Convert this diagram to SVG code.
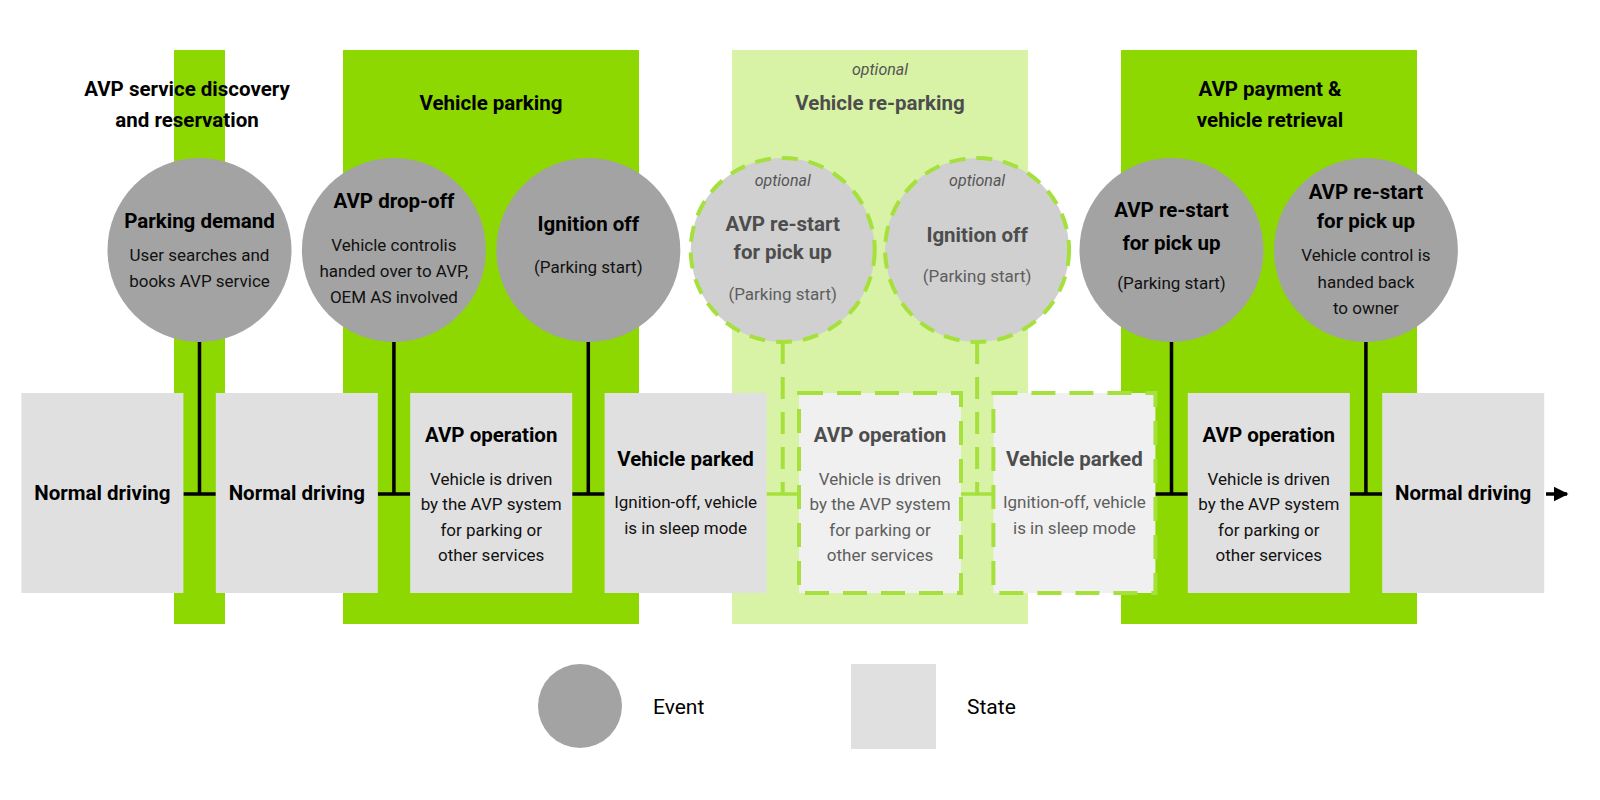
<svg xmlns="http://www.w3.org/2000/svg" width="1600" height="800" viewBox="0 0 1600 800">
<defs>
<style>
text{font-family:Roboto,"Liberation Sans",sans-serif;text-anchor:middle}
.band{fill:#8dd800}
.band-opt{fill:#d8f2a6}
.ev{fill:#a3a3a3}
.ev-opt{fill:#d0d0d0;stroke:#a6e03c;stroke-width:4;stroke-dasharray:16 11}
.st{fill:#e0e0e0}
.st-opt{fill:#f0f0f0;stroke:#a6e03c;stroke-width:4;stroke-dasharray:24 14}
.t{font-size:20.5px;font-weight:bold;fill:#000}
.s{font-size:17px;fill:#111}
.to{font-size:20.5px;font-weight:bold;fill:#4d4d4d}
.so{font-size:17px;fill:#5e5e5e}
.opt{font-size:16px;font-style:italic;fill:#555}
.c{stroke:#000;stroke-width:3.5;fill:none}
.cg{stroke:#a6e03c;stroke-width:3.5;fill:none}
.cgd{stroke:#a6e03c;stroke-width:4;fill:none;stroke-dasharray:22 13}
.leg{font-size:21px;fill:#000;text-anchor:start}
</style>
<marker id="arr" viewBox="0 0 10 10" refX="9" refY="5" markerWidth="15" markerHeight="15" markerUnits="userSpaceOnUse" orient="auto">
<path d="M0,0 L10,5 L0,10 z" fill="#000"/>
</marker>
</defs>
<rect width="1600" height="800" fill="#fff"/>

<g id="phases">
<g id="phase-discovery">
<rect class="band" x="174" y="50" width="51" height="574"/>
<text class="t" x="187" y="96">AVP service discovery</text>
<text class="t" x="187" y="127">and reservation</text>
</g>
<g id="phase-parking">
<rect class="band" x="343" y="50" width="296" height="574"/>
<text class="t" x="491" y="110">Vehicle parking</text>
</g>
<g id="phase-reparking">
<rect class="band-opt" x="732" y="50" width="296" height="574"/>
<text class="opt" x="880" y="75">optional</text>
<text class="to" x="880" y="110">Vehicle re-parking</text>
</g>
<g id="phase-retrieval">
<rect class="band" x="1121" y="50" width="296" height="574"/>
<text class="t" x="1270" y="96">AVP payment &amp;</text>
<text class="t" x="1270" y="127">vehicle retrieval</text>
</g>
</g>

<g id="connectors">
<path class="c" d="M199.5,342 V494 M183.4,494 H215.8"/>
<path class="c" d="M393.9,342 V494 M377.8,494 H410.2"/>
<path class="c" d="M588.3,342 V494 M572.2,494 H604.6"/>
<path class="cgd" d="M782.7,342 V494"/>
<path class="cg" d="M766.6,494 H799"/>
<path class="cgd" d="M977.1,342 V494"/>
<path class="cg" d="M961,494 H993.4"/>
<path class="c" d="M1171.5,342 V494 M1155.4,494 H1187.8"/>
<path class="c" d="M1365.9,342 V494 M1349.8,494 H1382.2"/>
<path class="c" d="M1546,494 H1567" marker-end="url(#arr)"/>
</g>

<g id="ev-parking-demand">
<circle class="ev" cx="199.5" cy="250" r="92"/>
<text class="t" x="199.5" y="228">Parking demand</text>
<text class="s" x="199.5" y="261">User searches and</text>
<text class="s" x="199.5" y="287">books AVP service</text>
</g>
<g id="ev-dropoff">
<circle class="ev" cx="393.9" cy="250" r="92"/>
<text class="t" x="393.9" y="208">AVP drop-off</text>
<text class="s" x="393.9" y="251">Vehicle controlis</text>
<text class="s" x="393.9" y="277">handed over to AVP,</text>
<text class="s" x="393.9" y="303">OEM AS involved</text>
</g>
<g id="ev-ignition-off">
<circle class="ev" cx="588.3" cy="250" r="92"/>
<text class="t" x="588.3" y="231">Ignition off</text>
<text class="s" x="588.3" y="273">(Parking start)</text>
</g>
<g id="ev-opt-restart">
<circle class="ev-opt" cx="782.7" cy="250" r="92"/>
<text class="opt" x="782.7" y="186">optional</text>
<text class="to" x="782.7" y="231">AVP re-start</text>
<text class="to" x="782.7" y="259">for pick up</text>
<text class="so" x="782.7" y="300">(Parking start)</text>
</g>
<g id="ev-opt-ignition-off">
<circle class="ev-opt" cx="977.1" cy="250" r="92"/>
<text class="opt" x="977.1" y="186">optional</text>
<text class="to" x="977.1" y="242">Ignition off</text>
<text class="so" x="977.1" y="282">(Parking start)</text>
</g>
<g id="ev-restart">
<circle class="ev" cx="1171.5" cy="250" r="92"/>
<text class="t" x="1171.5" y="217">AVP re-start</text>
<text class="t" x="1171.5" y="250">for pick up</text>
<text class="s" x="1171.5" y="289">(Parking start)</text>
</g>
<g id="ev-restart-handback">
<circle class="ev" cx="1365.9" cy="250" r="92"/>
<text class="t" x="1365.9" y="199">AVP re-start</text>
<text class="t" x="1365.9" y="228">for pick up</text>
<text class="s" x="1365.9" y="261">Vehicle control is</text>
<text class="s" x="1365.9" y="288">handed back</text>
<text class="s" x="1365.9" y="314">to owner</text>
</g>

<g id="st-normal-1">
<rect class="st" x="21.4" y="393" width="162" height="200"/>
<text class="t" x="102.4" y="500">Normal driving</text>
</g>
<g id="st-normal-2">
<rect class="st" x="215.8" y="393" width="162" height="200"/>
<text class="t" x="296.8" y="500">Normal driving</text>
</g>
<g id="st-avp-op-1">
<rect class="st" x="410.2" y="393" width="162" height="200"/>
<text class="t" x="491.2" y="442">AVP operation</text>
<text class="s" x="491.2" y="485">Vehicle is driven</text>
<text class="s" x="491.2" y="510">by the AVP system</text>
<text class="s" x="491.2" y="536">for parking or</text>
<text class="s" x="491.2" y="561">other services</text>
</g>
<g id="st-parked-1">
<rect class="st" x="604.6" y="393" width="162" height="200"/>
<text class="t" x="685.6" y="466">Vehicle parked</text>
<text class="s" x="685.6" y="508">Ignition-off, vehicle</text>
<text class="s" x="685.6" y="534">is in sleep mode</text>
</g>
<g id="st-opt-avp-op">
<rect class="st-opt" x="799" y="393" width="162" height="200"/>
<text class="to" x="880" y="442">AVP operation</text>
<text class="so" x="880" y="485">Vehicle is driven</text>
<text class="so" x="880" y="510">by the AVP system</text>
<text class="so" x="880" y="536">for parking or</text>
<text class="so" x="880" y="561">other services</text>
</g>
<g id="st-opt-parked">
<rect class="st-opt" x="993.4" y="393" width="162" height="200"/>
<text class="to" x="1074.4" y="466">Vehicle parked</text>
<text class="so" x="1074.4" y="508">Ignition-off, vehicle</text>
<text class="so" x="1074.4" y="534">is in sleep mode</text>
</g>
<g id="st-avp-op-2">
<rect class="st" x="1187.8" y="393" width="162" height="200"/>
<text class="t" x="1268.8" y="442">AVP operation</text>
<text class="s" x="1268.8" y="485">Vehicle is driven</text>
<text class="s" x="1268.8" y="510">by the AVP system</text>
<text class="s" x="1268.8" y="536">for parking or</text>
<text class="s" x="1268.8" y="561">other services</text>
</g>
<g id="st-normal-3">
<rect class="st" x="1382.2" y="393" width="162" height="200"/>
<text class="t" x="1463.2" y="500">Normal driving</text>
</g>

<g id="legend">
<circle class="ev" cx="580" cy="706" r="42"/>
<text class="leg" x="653" y="714">Event</text>
<rect class="st" x="851" y="664" width="85" height="85"/>
<text class="leg" x="967" y="714">State</text>
</g>
</svg>
